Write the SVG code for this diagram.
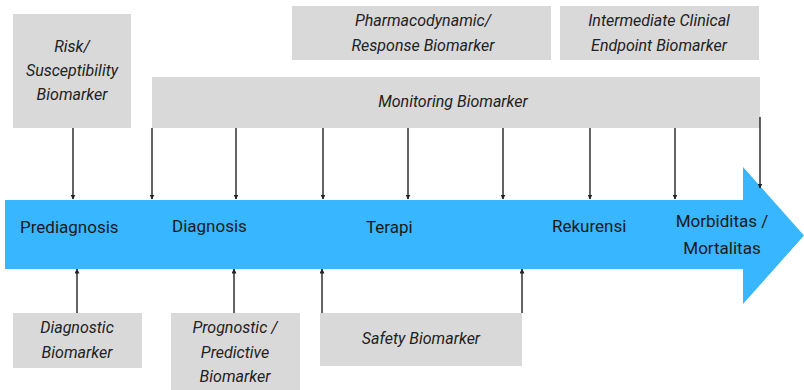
<svg xmlns="http://www.w3.org/2000/svg" width="804" height="390" viewBox="0 0 804 390">
<defs>
<style>
.box{fill:#d9d9d9;}
.lbl{font-family:Roboto,"Liberation Sans",sans-serif;font-style:italic;font-size:16px;fill:#222;text-anchor:middle;}
.stage{font-family:Roboto,"Liberation Sans",sans-serif;font-size:17px;fill:#1a1a1a;}
.conn{stroke:#222;stroke-width:1.4;fill:none;marker-end:url(#ah);}
</style>
<marker id="ah" viewBox="0 0 10 10" refX="9" refY="5" markerWidth="5" markerHeight="5" orient="auto" markerUnits="userSpaceOnUse">
<path d="M0,0 L10,5 L0,10 z" fill="#222"/>
</marker>
</defs>
<g id="timeline">
<path d="M5,200 L743,200 L743,167 L804,235.5 L743,304 L743,269 L5,269 z" fill="#38b6ff"/>
<text class="stage" x="20" y="233">Prediagnosis</text>
<text class="stage" x="172" y="232">Diagnosis</text>
<text class="stage" x="366" y="233">Terapi</text>
<text class="stage" x="552" y="232">Rekurensi</text>
<text class="stage" x="722" y="227" text-anchor="middle">Morbiditas /</text>
<text class="stage" x="722" y="254" text-anchor="middle">Mortalitas</text>
</g>
<g id="risk">
<rect class="box" x="13" y="14" width="118" height="114"/>
<text class="lbl" x="72" y="52">Risk/</text>
<text class="lbl" x="72" y="76">Susceptibility</text>
<text class="lbl" x="72" y="100">Biomarker</text>
</g>
<g id="pharmacodynamic">
<rect class="box" x="292" y="6" width="259" height="54"/>
<text class="lbl" x="423" y="26">Pharmacodynamic/</text>
<text class="lbl" x="423" y="51">Response Biomarker</text>
</g>
<g id="intermediate">
<rect class="box" x="560" y="6" width="199" height="54"/>
<text class="lbl" x="659" y="26">Intermediate Clinical</text>
<text class="lbl" x="659" y="51">Endpoint Biomarker</text>
</g>
<g id="monitoring">
<rect class="box" x="152" y="77" width="608" height="51"/>
<text class="lbl" x="453" y="107">Monitoring Biomarker</text>
</g>
<g id="diagnostic">
<rect class="box" x="13" y="313" width="129" height="55"/>
<text class="lbl" x="77" y="333">Diagnostic</text>
<text class="lbl" x="77" y="358">Biomarker</text>
</g>
<g id="prognostic">
<rect class="box" x="171" y="313" width="129" height="77"/>
<text class="lbl" x="235" y="333">Prognostic /</text>
<text class="lbl" x="235" y="358">Predictive</text>
<text class="lbl" x="235" y="382">Biomarker</text>
</g>
<g id="safety">
<rect class="box" x="320" y="313" width="202" height="53"/>
<text class="lbl" x="421" y="344">Safety Biomarker</text>
</g>
<g id="connectors">
<line class="conn" x1="73" y1="128" x2="73" y2="199"/>
<line class="conn" x1="152" y1="128" x2="152" y2="199"/>
<line class="conn" x1="236" y1="128" x2="236" y2="199"/>
<line class="conn" x1="323" y1="128" x2="323" y2="199"/>
<line class="conn" x1="408" y1="128" x2="408" y2="199"/>
<line class="conn" x1="503" y1="128" x2="503" y2="199"/>
<line class="conn" x1="590" y1="128" x2="590" y2="199"/>
<line class="conn" x1="675" y1="128" x2="675" y2="199"/>
<line class="conn" x1="760" y1="117" x2="760" y2="188"/>
<line class="conn" x1="77" y1="313" x2="77" y2="269"/>
<line class="conn" x1="234" y1="313" x2="234" y2="269"/>
<line class="conn" x1="322" y1="313" x2="322" y2="269"/>
<line class="conn" x1="522" y1="313" x2="522" y2="269"/>
</g>
</svg>
